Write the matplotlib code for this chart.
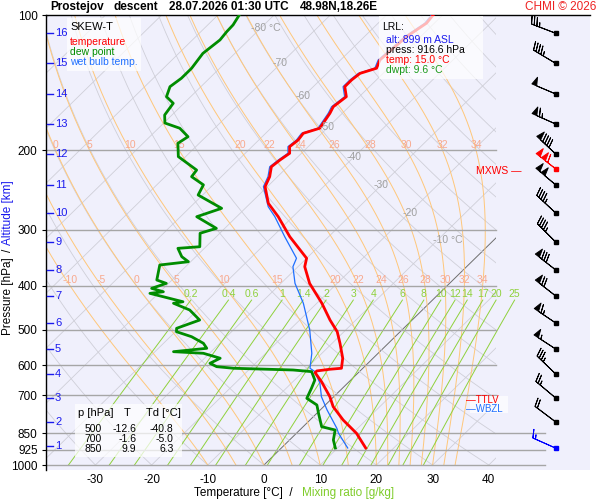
import numpy as np
import matplotlib.pyplot as plt
from matplotlib.patches import Rectangle

plt.rcParams['font.family'] = ['Liberation Sans', 'DejaVu Sans']

# sounding: pressure [hPa], temperature [°C]
temp_p = [916.6, 850.3, 794.3, 741.9, 705.0, 653.0, 623.3, 618.0, 612.7, 609.6,
          579.1, 536.5, 505.6, 476.3, 437.1, 394.8, 362.5, 347.2, 311.0, 280.7,
          262.1, 240.7, 228.7, 217.4, 210.1, 202.9, 196.2, 189.6, 183.2, 178.5,
          165.4, 159.9, 151.9, 144.3, 139.4, 134.8, 131.3, 125.9, 111.7, 104.3, 100.0]
temp_t = [15.0, 10.7, 5.9, 1.7, -0.7, -4.9, -7.7, -7.7, -5.7, -3.8,
          -5.4, -8.6, -11.2, -14.6, -19.1, -24.9, -28.8, -30.0, -36.9, -42.6,
          -46.8, -50.4, -51.4, -52.9, -52.6, -52.1, -53.3, -53.0, -53.3, -51.3,
          -52.2, -52.8, -52.3, -54.4, -54.4, -54.1, -52.1, -53.0, -52.5, -51.4, -51.7]

dwpt_p = [916.6, 879.9, 836.0, 822.1, 767.5, 735.6, 711.0, 675.4, 647.4, 620.2,
          615.0, 609.6, 604.6, 594.3, 579.1, 564.6, 560.0, 550.4, 536.5, 518.7,
          505.6, 496.9, 476.3, 452.4, 437.1, 433.7, 415.5, 412.1, 405.0, 394.8,
          388.1, 359.4, 353.4, 344.4, 330.0, 327.3, 305.5, 297.9, 280.7, 268.9,
          251.2, 238.5, 228.7, 221.1, 206.4, 192.8, 186.4, 178.5, 173.8, 166.8,
          157.1, 151.9, 144.3, 138.2, 131.3, 121.7, 113.6, 108.9, 105.2, 100.0]
dwpt_t = [9.6, 7.8, 6.3, 3.3, 0.3, -1.5, -4.5, -5.5, -6.4, -8.5,
          -12.1, -23.0, -26.3, -28.1, -27.2, -31.1, -36.7, -31.4, -32.9, -36.2,
          -39.8, -40.4, -37.8, -41.4, -45.5, -44.1, -51.5, -49.4, -52.1, -50.4,
          -52.7, -54.9, -50.4, -52.5, -54.7, -51.1, -53.5, -51.5, -57.1, -54.2,
          -60.8, -61.7, -65.3, -65.6, -71.3, -73.8, -73.2, -76.2, -79.8, -81.3,
          -81.9, -84.3, -85.5, -85.0, -85.0, -85.7, -85.1, -85.4, -85.5, -86.2]

wetb_p = [916.6, 850.3, 828.9, 754.3, 705.0, 658.3, 620.2, 609.6, 564.6, 501.2,
          437.1, 394.8, 362.5, 347.2, 311.0, 280.7, 266.7, 240.7, 228.7, 217.4,
          210.1, 202.9, 196.2, 189.6, 183.2, 178.5, 165.4, 159.9, 151.9, 144.3,
          139.4, 134.8, 131.3, 125.9, 111.7, 104.3, 100.0]
wetb_t = [11.8, 7.5, 6.3, 1.2, -2.2, -4.9, -7.9, -9.4, -11.8, -16.4,
          -22.4, -27.5, -30.9, -31.8, -37.8, -43.2, -46.2, -50.7, -51.7, -53.2,
          -52.9, -52.4, -53.6, -53.3, -53.6, -51.6, -52.5, -53.1, -52.6, -54.7,
          -54.7, -54.4, -52.4, -53.3, -52.8, -51.7, -52.0]

# altitude marks [km] and the pressure level they sit at
alt_km = [16, 15, 14, 13, 12, 11, 10, 9, 8, 7, 6, 5, 4, 3, 2, 1]
alt_p = [109.8, 128.1, 149.8, 174.7, 203.6, 238.5, 275.4, 319.5, 368.6, 421.1,
         483.5, 552.4, 627.7, 709.8, 802.3, 907.4]

# winds at 16..2 km: direction [deg], speed [kt]
wind_p = alt_p[:-1]
wind_dir = [291, 301, 293, 294, 313, 310, 313, 315, 308, 308, 304, 303, 314, 310, 307]
wind_spd = [35, 45, 50, 65, 90, 100, 45, 45, 80, 70, 65, 55, 35, 25, 20]
mxws_p, mxws_dir, mxws_spd = 220.4, 308, 110

lrl_p, lrl_t, lrl_td, lrl_alt = 916.6, 15.0, 9.6, 899
lrl_dir, lrl_spd = 294, 15

table_p = [500, 700, 850]
table_t = [-12.6, -1.6, 9.9]
table_td = [-40.8, -5.0, 6.3]

p_ticks = [100, 200, 300, 400, 500, 600, 700, 850, 925, 1000]
t_ticks = [-30, -20, -10, 0, 10, 20, 30, 40]
iso_labels = [-80, -70, -60, -50, -40, -30, -20, -10]
theta_w = [-10, -5, 0, 5, 10, 15, 20, 22, 24, 26, 28, 30, 32, 34]
theta_w_top = [0, 5, 10, 15, 20, 22, 24, 26, 28, 30, 32, 34]
mix_ratios = [0.2, 0.4, 0.6, 1, 1.4, 2, 3, 4, 6, 8, 10, 12, 14, 17, 20, 25]

# ---- geometry ----
SKEW = 81.8          # deg C shift per decade of pressure
PXC = 5.62           # pixels per deg C
X0 = 264.0           # pixel of 0 deg C at 1000 hPa


def skx(t, p):
    return np.asarray(t, float) + SKEW * np.log10(1000.0 / np.asarray(p, float))


def px2x(x):
    return (x - X0) / PXC


def fig_xy(x, y):
    return x / 600.0, 1.0 - y / 500.0


X_L, X_M, X_R, X_I = px2x(46), px2x(496), px2x(590), px2x(545)
P_BOT = 1000.0 * 10 ** (5 / 450.0)

fig = plt.figure(figsize=(6, 5), dpi=100)
ax = fig.add_axes([46 / 600, 1 - 470 / 500, 544 / 600, 455 / 500])
ax.set_facecolor('#f0f0fc')
ax.set_yscale('log')
ax.set_xlim(X_L, X_R)
ax.set_ylim(P_BOT, 100)

clip = Rectangle((X_L, 100), X_M - X_L, 900, transform=ax.transData,
                 fill=False, visible=False)
ax.add_patch(clip)

pp = np.logspace(3, 2, 300)

# isotherms
for t in range(-130, 50, 10):
    ln, = ax.plot(skx(np.full_like(pp, t), pp), pp,
                  color='#6e6e6e' if t == 0 else '#cfcfd8',
                  lw=0.7 if t == 0 else 0.6, zorder=1)
    ln.set_clip_path(clip)

# dry adiabats
for th in range(-40, 210, 10):
    tt = (th + 273.15) * (pp / 1000.0) ** 0.2857 - 273.15
    ln, = ax.plot(skx(tt, pp), pp, color='#cfcfd8', lw=0.6, zorder=1)
    ln.set_clip_path(clip)


# moist (pseudo) adiabats
def dtdp(T, p):
    es = 6.112 * np.exp(17.67 * (T - 273.15) / (T - 29.65))
    rs = 0.622 * es / (p - es)
    return (287.04 * T + 2.501e6 * rs) / (p * (1005.7 + 2.501e6 ** 2 * rs * 0.622 / (287.04 * T * T)))


tw = np.array(theta_w, float) + 273.15
moist = [tw.copy()]
for i in range(1, len(pp)):
    dp = pp[i] - pp[i - 1]
    k1 = dtdp(tw, pp[i - 1])
    k2 = dtdp(tw + k1 * dp / 2, pp[i - 1] + dp / 2)
    tw = tw + k2 * dp
    moist.append(tw.copy())
moist = np.array(moist) - 273.15
for j, th in enumerate(theta_w):
    ln, = ax.plot(skx(moist[:, j], pp), pp, color='#ffc77a', lw=0.7, zorder=1.2)
    ln.set_clip_path(clip)
    for plev, lab_p, vals in [(200, 194.5, theta_w_top), (400, 388.1, theta_w)]:
        if th in vals:
            xl = np.interp(np.log(plev), np.log(pp[::-1]), skx(moist[::-1, j], pp[::-1]))
            ax.text(xl, lab_p, f'{th}', color='#f8a98e', fontsize=7.5,
                    ha='center', va='center', zorder=2)

# mixing ratio lines
pm = np.logspace(3, np.log10(430), 60)
for w in mix_ratios:
    e = w * pm / (622.0 + w)
    le = np.log(e / 6.112)
    td = 243.5 * le / (17.67 - le)
    ax.plot(skx(td, pm), pm, color='#8fd13c', lw=0.7, zorder=1.3)
    ax.text(skx(td[-1], pm[-1]), 417, f'{w:g}', color='#8fd13c', fontsize=7.5,
            ha='center', va='center', zorder=2)

# isobars
for p in p_ticks[1:]:
    ax.plot([X_L, X_I if p >= 850 else X_M], [p, p], color='#a6a6a6', lw=1.0, zorder=1.5)

# isotherm labels
iso_pos = [(266, 28), (280, 63), (303, 96), (327, 127), (354, 157), (381, 185),
           (410, 213), (448, 240)]
for t, (x, y) in zip(iso_labels, iso_pos):
    lab = f'{t} °C' if t in (-80, -10) else f'{t}'
    fig.text(*fig_xy(x, y), lab, color='#a0a0a0', fontsize=7.5, ha='center', va='center')

# profiles
ax.plot(skx(wetb_t, wetb_p), wetb_p, color='#1f6fff', lw=0.9, zorder=4)
ax.plot(skx(dwpt_t, dwpt_p), dwpt_p, color='#008c00', lw=2.0, zorder=4)
ax.plot(skx(temp_t, temp_p), temp_p, color='#ff0000', lw=2.0, zorder=5)

# wind barbs
XB = px2x(555.7)
bsizes = dict(height=0.32, spacing=0.11, width=0.2)
wd = np.radians(wind_dir)
ws = np.array(wind_spd, float)
ax.barbs(np.full(len(wind_p), XB), wind_p, -ws * np.sin(wd), -ws * np.cos(wd),
         length=6.1, lw=0.7, color='black', sizes=bsizes, zorder=6)
ax.plot(np.full(len(wind_p), XB), wind_p, 's', color='black', ms=2.2, zorder=6)
for p, d, s, c in [(mxws_p, mxws_dir, mxws_spd, 'red'), (lrl_p, lrl_dir, lrl_spd, 'blue')]:
    r = np.radians(d)
    ax.barbs([XB], [p], [-s * np.sin(r)], [-s * np.cos(r)], length=6.1, lw=0.7,
             color=c, sizes=bsizes, zorder=6)
    ax.plot([XB], [p], 's', color=c, ms=2.2, zorder=6)

# axes cosmetics
for side in ('right', 'bottom'):
    ax.spines[side].set_visible(False)
ax.spines['left'].set_linewidth(1.0)
ax.spines['top'].set_linewidth(1.0)
ax.set_yticks(p_ticks)
ax.set_yticklabels([str(p) for p in p_ticks], fontsize=8.5)
ax.minorticks_off()
ax.tick_params(axis='y', length=3, width=0.8, pad=3)
ax.set_xticks(t_ticks)
ax.set_xticklabels([str(t) for t in t_ticks], fontsize=8.5)
ax.tick_params(axis='x', length=0, pad=3)

# altitude marks
for km, p in zip(alt_km, alt_p):
    ax.plot([px2x(47), px2x(53)], [p, p], color='#1a1aee', lw=1.0, zorder=6, clip_on=False)
    ax.text(px2x(55), p, str(km), color='#1a1aee', fontsize=8, ha='left', va='center', zorder=6)


# text boxes
def box(x0, y0, x1, y1):
    fx0, fy1 = fig_xy(x0, y0)
    fx1, fy0 = fig_xy(x1, y1)
    fig.patches.append(Rectangle((fx0, fy0), fx1 - fx0, fy1 - fy0, transform=fig.transFigure,
                                 facecolor='white', edgecolor='none', alpha=0.72, zorder=2))


box(67, 18, 141, 71)
fig.text(*fig_xy(70, 27), 'SKEW-T', fontsize=8, va='center')
fig.text(*fig_xy(70, 42), 'temperature', fontsize=7.5, color='#ff0000', va='center')
fig.text(*fig_xy(70, 52), 'dew point', fontsize=7.5, color='#008c00', va='center')
fig.text(*fig_xy(70, 62), 'wet bulb temp.', fontsize=7.5, color='#1f6fff', va='center')

box(379, 16, 483, 79)
fig.text(*fig_xy(382, 27), 'LRL:', fontsize=7.5, va='center')
fig.text(*fig_xy(386, 40), f'alt: {lrl_alt} m ASL', fontsize=7.5, color='#1a1aee', va='center')
fig.text(*fig_xy(386, 50), f'press: {lrl_p:.1f} hPa', fontsize=7.5, va='center')
fig.text(*fig_xy(386, 60), f'temp: {lrl_t:.1f} °C', fontsize=7.5, color='#ff0000', va='center')
fig.text(*fig_xy(386, 70), f'dwpt: {lrl_td:.1f} °C', fontsize=7.5, color='#1a9a1a', va='center')

box(75, 404, 182, 457)
fig.text(*fig_xy(78, 413), 'p [hPa]', fontsize=8, va='center')
fig.text(*fig_xy(127, 413), 'T', fontsize=8, va='center', ha='center')
fig.text(*fig_xy(146, 413), 'Td [°C]', fontsize=8, va='center')
for k, (p, t, td) in enumerate(zip(table_p, table_t, table_td)):
    y = 428.5 + 10.5 * k
    fig.text(*fig_xy(102, y), f'{p}', fontsize=7.5, va='center', ha='right')
    fig.text(*fig_xy(136.5, y), f'{t:.1f}', fontsize=7.5, va='center', ha='right')
    fig.text(*fig_xy(173.5, y), f'{td:.1f}', fontsize=7.5, va='center', ha='right')

# TTLV / WBZL marks
fig.text(*fig_xy(466, 400), '\u2014TTLV', fontsize=7, color='#ff0000', va='center')
box(470, 396, 508, 413)
fig.text(*fig_xy(466, 409.5), '\u2014WBZL', fontsize=7, color='#1f6fff', va='center', zorder=4)
fig.text(*fig_xy(521, 170.5), 'MXWS \u2014', fontsize=7.5, color='#ff0000', va='center', ha='right')

# title
for x, s in [(50, 'Prostejov'), (114, 'descent'), (169, '28.07.2026 01:30 UTC'), (300, '48.98N,18.26E')]:
    fig.text(*fig_xy(x, 7), s, fontsize=8.5, fontweight='bold', va='center')
fig.text(*fig_xy(596, 7), 'CHMI \u00a9 2026', fontsize=8.5, color='#ee2222', va='center', ha='right')

# axis titles
fig.text(*fig_xy(293, 493), 'Temperature [°C]  /', fontsize=8.5, va='center', ha='right')
fig.text(*fig_xy(302, 493), 'Mixing ratio [g/kg]', fontsize=8.5, color='#7fcc2a', va='center')
fig.text(*fig_xy(8, 296.5), 'Pressure [hPa]', fontsize=8.5, rotation=90, ha='center', va='center')
fig.text(*fig_xy(8, 250), '/', fontsize=8.5, rotation=90, ha='center', va='center')
fig.text(*fig_xy(8, 212.5), 'Altitude [km]', fontsize=8.5, rotation=90, ha='center', va='center',
         color='#1a1aee')

fig.savefig('out.png', dpi=100)
